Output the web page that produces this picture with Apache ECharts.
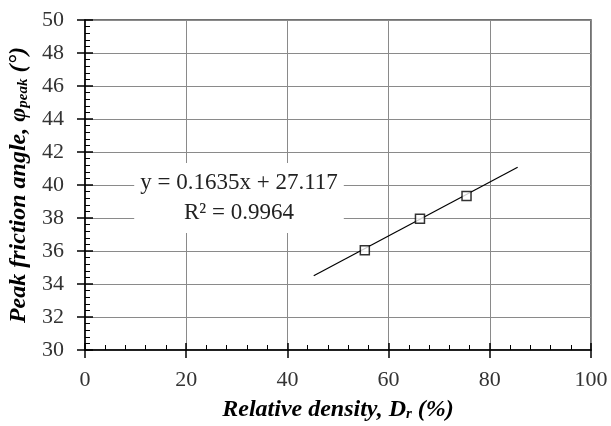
<!DOCTYPE html>
<html>
<head>
<meta charset="utf-8">
<script src="https://cdn.jsdelivr.net/npm/echarts@6/dist/echarts.min.js"></script>
<style>
  html, body { margin: 0; padding: 0; background: #fff; }
  #chart { width: 611px; height: 426px; }
</style>
</head>
<body>
<div id="chart"></div>
<script>
// Measured peak friction angles against relative density
const relativeDensity = [55.3, 66.2, 75.4];
const peakAngle = [36.05, 37.95, 39.33];

// Linear trend line end points
const fitDensity = [45.2, 85.5];
const fitAngle = [34.5, 41.08];

// Trend equation annotation
const fitEquation = 'y = 0.1635x + 27.117';
const fitR2 = 'R² = 0.9964';

// Axis ranges and steps
const xRange = [0, 100];
const xStep = 20;
const yRange = [30, 50];
const yStep = 2;

const serif = '"Liberation Serif", "DejaVu Serif", serif';

const pointData = relativeDensity.map((d, i) => [d, peakAngle[i]]);
const fitData = fitDensity.map((d, i) => [d, fitAngle[i]]);

const titleStyle = {
  fontFamily: serif,
  fontSize: 24,
  fontWeight: 'bold',
  fontStyle: 'italic',
  color: '#000',
  rich: {
    m: { fontFamily: serif, fontSize: 24, fontWeight: 'bold', fontStyle: 'italic', color: '#000', lineHeight: 24 },
    s: { fontFamily: serif, fontSize: 15, fontWeight: 'bold', fontStyle: 'italic', color: '#000',
         lineHeight: 15, padding: [11, 0, 0, 0], verticalAlign: 'bottom' }
  }
};

const chart = echarts.init(document.getElementById('chart'), null, { renderer: 'canvas' });

chart.setOption({
  animation: false,
  backgroundColor: '#fff',
  grid: {
    left: 85, right: 20, top: 20, bottom: 76,
    outerBoundsMode: 'none',
    containLabel: false,
    show: true,
    borderColor: '#444',
    borderWidth: 1.5
  },
  xAxis: [
    {
      type: 'value',
      min: xRange[0], max: xRange[1], interval: xStep,
      position: 'bottom',
      axisLine: { show: true, onZero: false, lineStyle: { color: '#000', width: 1.5 } },
      axisTick: { show: true, inside: true, length: 7, lineStyle: { color: '#000', width: 1.5 } },
      minorTick: { show: true, splitNumber: 5, length: 5, lineStyle: { color: '#000', width: 1 } },
      splitLine: { show: true, lineStyle: { color: '#8a8a8a', width: 1 } },
      axisLabel: { fontFamily: serif, fontSize: 22, color: '#333', margin: 19 },
      name: '{m|Relative density, D}{s|r}{m| (%)}',
      nameLocation: 'middle',
      nameGap: 40,
      nameTextStyle: titleStyle
    },
    {
      type: 'value',
      min: xRange[0], max: xRange[1], interval: xStep,
      position: 'bottom',
      axisLine: { show: false, onZero: false },
      axisTick: { show: true, inside: false, length: 8, lineStyle: { color: '#000', width: 1.5 } },
      axisLabel: { show: false },
      splitLine: { show: false }
    }
  ],
  yAxis: [
    {
      type: 'value',
      min: yRange[0], max: yRange[1], interval: yStep,
      position: 'left',
      axisLine: { show: true, onZero: false, lineStyle: { color: '#000', width: 1.5 } },
      axisTick: { show: true, inside: true, length: 8, lineStyle: { color: '#000', width: 1.5 } },
      minorTick: { show: true, splitNumber: 5, length: 5, lineStyle: { color: '#000', width: 1 } },
      splitLine: { show: true, lineStyle: { color: '#8a8a8a', width: 1 } },
      axisLabel: { fontFamily: serif, fontSize: 22, color: '#333', margin: 21 },
      name: '{m|Peak friction angle, φ}{s|peak}{m| (°)}',
      nameLocation: 'middle',
      nameRotate: 90,
      nameGap: 52,
      nameTextStyle: titleStyle
    },
    {
      type: 'value',
      min: yRange[0], max: yRange[1], interval: yStep,
      position: 'left',
      axisLine: { show: false, onZero: false },
      axisTick: { show: true, inside: false, length: 8, lineStyle: { color: '#000', width: 1.5 } },
      axisLabel: { show: false },
      splitLine: { show: false }
    }
  ],
  graphic: [
    {
      type: 'text',
      x: 239,
      y: 198,
      z: 10,
      style: {
        text: fitEquation + '\n' + fitR2,
        align: 'center',
        verticalAlign: 'middle',
        fontFamily: serif,
        fontSize: 23,
        lineHeight: 30,
        fill: '#222',
        backgroundColor: '#fff',
        padding: [5, 6]
      }
    }
  ],
  series: [
    {
      name: 'trend',
      type: 'line',
      xAxisIndex: 0,
      yAxisIndex: 0,
      data: fitData,
      showSymbol: false,
      silent: true,
      z: 2,
      lineStyle: { color: '#000', width: 1.2 }
    },
    {
      name: 'tests',
      type: 'scatter',
      xAxisIndex: 0,
      yAxisIndex: 0,
      data: pointData,
      symbol: 'rect',
      symbolSize: 9,
      z: 3,
      itemStyle: { color: '#fff', borderColor: '#000', borderWidth: 1.5 }
    }
  ]
});
</script>
</body>
</html>
